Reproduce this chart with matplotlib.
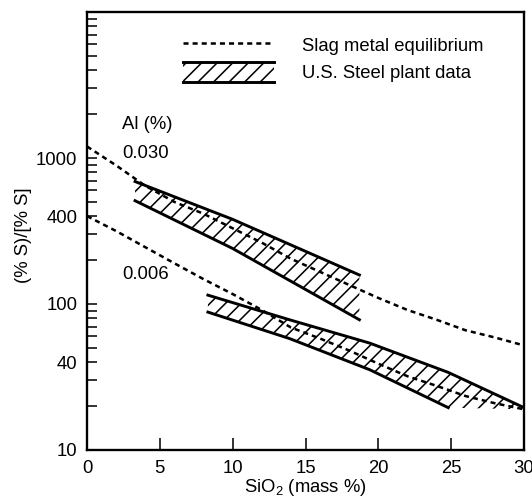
import matplotlib
matplotlib.use('Agg')
import matplotlib.pyplot as plt
from matplotlib.lines import Line2D
from matplotlib.patches import Rectangle, Patch
from matplotlib.legend_handler import HandlerBase
from matplotlib.ticker import LogLocator, NullFormatter

# slag/metal equilibrium curves, (%S)/[%S] vs SiO2 (mass %)
sio2 = [0, 2, 4, 6, 8, 10, 12, 14, 16, 18, 20, 22, 24, 26, 28, 30]
eq_al030 = [1200, 890, 645, 500, 415, 330, 263, 204, 166, 135, 110, 91, 78, 66, 59, 52]
eq_al006 = [400, 316, 245, 190, 148, 117, 91, 69, 58, 48, 39, 32, 27.5, 23.4, 20.9, 19]

# U.S. Steel plant data bands (upper / lower edge)
band1_x = [3.3, 10, 18.7]
band1_hi = [690, 380, 158]
band1_lo = [510, 240, 78]

band2_x = [8.3, 13.9, 19.4, 24.8, 30]
band2_hi = [115, 78, 54, 34, 19.5]
band2_lo = [88, 58, 35.5, 19.5, 19]

x_ticks = [0, 5, 10, 15, 20, 25, 30]
y_ticks = [10, 40, 100, 400, 1000]
y_labels = ['10', '40', '100', '400', '1000']
legend_labels = ['Slag metal equilibrium', 'U.S. Steel plant data']

plt.rcParams['font.family'] = ['Liberation Sans', 'DejaVu Sans']
plt.rcParams['font.size'] = 9.5
plt.rcParams['mathtext.fontset'] = 'custom'
plt.rcParams['mathtext.rm'] = 'Liberation Sans'
plt.rcParams['hatch.linewidth'] = 0.8

DPI = 140
fig = plt.figure(figsize=(532 / DPI, 498 / DPI), dpi=DPI)
ax = fig.add_axes([87 / 532, 48 / 498, (524 - 87) / 532, (450 - 12) / 498])

dash = (0, (2.0, 1.6))
hatch = '///'


class HatchBandHandler(HandlerBase):
    # hatched strip with thick top and bottom edges, like the plot bands
    def create_artists(self, legend, orig_handle, xdescent, ydescent,
                       width, height, fontsize, trans):
        x0, y0 = -xdescent, -ydescent
        rect = Rectangle((x0, y0), width, height, facecolor='none',
                         edgecolor='k', linewidth=0, hatch=hatch, transform=trans)
        top = Line2D([x0, x0 + width], [y0 + height, y0 + height], color='k', lw=1.5, transform=trans)
        bot = Line2D([x0, x0 + width], [y0, y0], color='k', lw=1.5, transform=trans)
        return [rect, top, bot]


# plant data bands
ax.fill_between(band1_x, band1_lo, band1_hi, facecolor='none', edgecolor='k', linewidth=0, hatch=hatch)
ax.plot(band1_x, band1_hi, color='k', lw=1.5)
ax.plot(band1_x, band1_lo, color='k', lw=1.5)

ax.fill_between(band2_x, band2_lo, band2_hi, facecolor='none', edgecolor='k', linewidth=0, hatch=hatch)
ax.plot(band2_x, band2_hi, color='k', lw=1.5)
ax.plot(band2_x[:-1], band2_lo[:-1], color='k', lw=1.5)

# equilibrium curves
ax.plot(sio2, eq_al030, color='k', lw=1.3, linestyle=dash)
ax.plot(sio2, eq_al006, color='k', lw=1.3, linestyle=dash)

ax.text(2.4, 1700, 'Al (%)', va='center')
ax.text(2.4, 1070, '0.030', va='center')
ax.text(2.4, 160, '0.006', va='center')

ax.set_yscale('log')
ax.set_xlim(0, 30)
ax.set_ylim(10, 10000)
ax.set_xticks(x_ticks)
ax.set_yticks(y_ticks, y_labels)
ax.yaxis.set_minor_locator(LogLocator(base=10, subs=range(2, 10)))
ax.yaxis.set_minor_formatter(NullFormatter())
ax.tick_params(axis='y', which='both', direction='in', length=5.1, width=0.8, pad=5)
ax.tick_params(axis='x', which='both', direction='in', length=6.2, width=0.8, pad=5)
ax.minorticks_on()
ax.xaxis.set_tick_params(which='minor', bottom=False)
for s in ax.spines.values():
    s.set_linewidth(1.2)

ax.set_ylabel('(% S)/[% S]')
ax.yaxis.set_label_coords(-0.125, 0.49)
ax.set_xlabel(r'SiO$_\mathregular{2}$ (mass %)')
ax.xaxis.set_label_coords(0.5, -0.062)

handles = [Line2D([], [], color='k', lw=1.3, linestyle=dash), Patch(hatch=hatch)]
ax.legend(handles, legend_labels, handler_map={Patch: HatchBandHandler()},
          loc='upper left', bbox_to_anchor=(183 / 532, 1 - 34.5 / 498),
          bbox_transform=fig.transFigure, frameon=False, borderpad=0,
          borderaxespad=0, handlelength=4.9, handleheight=1.35,
          handletextpad=1.55, labelspacing=0.35, fontsize=9.5)

fig.savefig('out.png', dpi=DPI)
